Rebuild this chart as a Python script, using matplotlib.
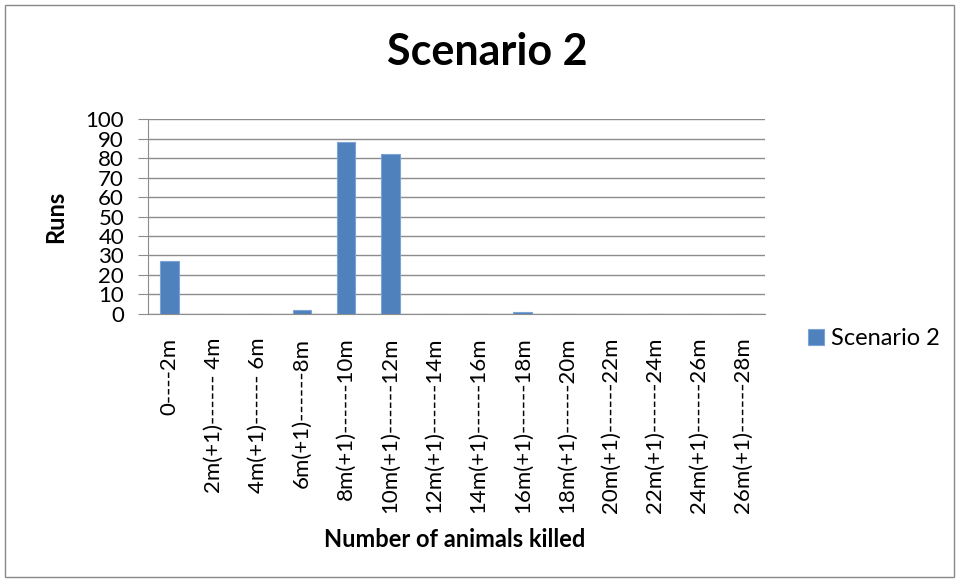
import matplotlib.pyplot as plt
from matplotlib.patches import Rectangle

plt.rcParams['font.family'] = ['Lato', 'DejaVu Sans']

categories = ['0----2m', '2m(+1)------ 4m', '4m(+1)------ 6m', '6m(+1)------8m',
              '8m(+1)------10m', '10m(+1)------12m', '12m(+1)------14m',
              '14m(+1)------16m', '16m(+1)------18m', '18m(+1)------20m',
              '20m(+1)------22m', '22m(+1)------24m', '24m(+1)------26m',
              '26m(+1)------28m']
runs = [27, 0, 0, 2, 88, 82, 0, 0, 1, 0, 0, 0, 0, 0]
yticks = list(range(0, 101, 10))

fig = plt.figure(figsize=(9.59, 5.82), dpi=100)
fig.patches.append(Rectangle((0.005, 0.008), 0.99, 0.984, transform=fig.transFigure,
                             fill=False, edgecolor='#898989', linewidth=1))
ax = fig.add_axes([0.154, 0.4605, 0.644, 0.335])

x = list(range(len(categories)))
bars = ax.bar(x, runs, width=0.42, color='#4f81bd', edgecolor='#7aa3d6',
              linewidth=0.8, label='Scenario 2', zorder=3)

ax.set_xlim(-0.5, len(categories) - 0.5)
ax.set_ylim(0, 100)
ax.set_yticks(yticks)
ax.yaxis.grid(True, color='#8c8c8c', linewidth=1, zorder=0)
for s in ['top', 'right']:
    ax.spines[s].set_visible(False)
ax.spines['left'].set_color('#8c8c8c')
ax.spines['bottom'].set_color('#8c8c8c')
ax.tick_params(axis='y', length=7, color='#8c8c8c', labelsize=16, pad=10)
ax.set_xticks(x)
ax.set_xticklabels(categories, rotation=90, fontsize=16)
ax.tick_params(axis='x', length=0, pad=17)

ax.set_ylabel('Runs', fontsize=17, fontweight='bold')
ax.yaxis.set_label_coords(-0.13, 0.5)
ax.set_xlabel('Number of animals killed', fontsize=17, fontweight='bold')
ax.xaxis.set_label_coords(0.4976, -1.10)
fig.text(0.508, 0.91, 'Scenario 2', ha='center', va='center', fontsize=31, fontweight='bold')

fig.legend(handles=[bars], labels=['Scenario 2'], loc='center left',
           bbox_to_anchor=(0.82, 0.418), frameon=False, fontsize=17,
           handlelength=0.7, handleheight=0.7, handletextpad=0.3)

fig.savefig('out.png', dpi=100)
